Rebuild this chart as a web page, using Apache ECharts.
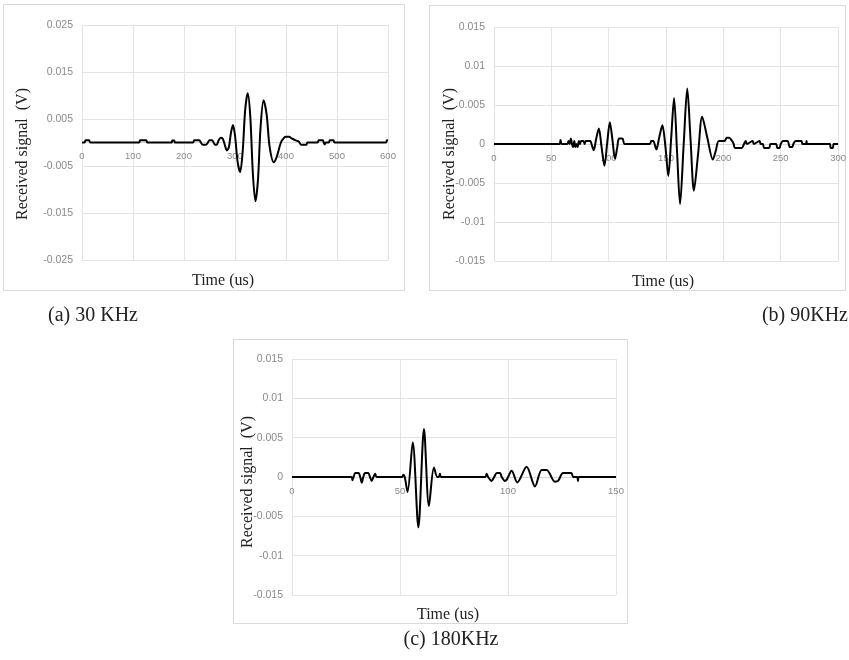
<!DOCTYPE html>
<html>
<head>
<meta charset="utf-8">
<script src="https://cdn.jsdelivr.net/npm/echarts@6/dist/echarts.min.js"></script>
<style>
html,body{margin:0;padding:0;background:#fff;}
#chart{width:849px;height:660px;}
</style>
</head>
<body>
<div id="chart"></div>
<script>
// ---------- Panel (a) 30 KHz ----------
const tA = [0,5,7,14,16,112,114,126,128,176,177,181,182,218,220,230,233,237,243,247,250,255,258,261,264,268,272,276,280,284,288,292,296,300,305,310,315,320,325,330,335,340,345,350,356,362,368,376,382,390,396,400,406,412,418,425,430,440,442,462,464,472,474,476,478,484,486,493,495,596,598,600];
const vA = [0,0,0.0005,0.0005,0,0,0.0005,0.0005,0,0,0.0004,0.0004,0,0,0.0005,0.0005,0,-0.0005,-0.0005,0,0.0005,0.0005,0,-0.0005,-0.0005,0.0005,0.001,0.0008,-0.0005,-0.0017,-0.001,0.002,0.0037,0.0015,-0.004,-0.0063,-0.002,0.007,0.0105,0.0055,-0.0065,-0.0125,-0.008,0.003,0.009,0.006,-0.001,-0.0042,-0.003,0,0.001,0.0012,0.0012,0.0008,0.0005,0.0002,-0.0005,-0.0005,0,0,0.0005,0.0005,0,-0.0004,0,0,0.0005,0.0005,0,0,0.0005,0.0005];

// ---------- Panel (b) 90 KHz ----------
const tB = [0,57,58,59,64,65,66,67,68,69,70,71,72,73,74,75,76,78,79,80,82,84,85,87,89,91.4,93.8,96.3,98.6,101,103.3,105.5,107.5,109,112,114,136,137,139,140,141.6,144,146.8,149.5,152,154.5,157,159.6,162.2,165.4,168.5,171.4,174.3,178,181.5,186,190.8,193.5,196,201,203,205,207.5,209,210,216,218,219.5,220.5,225.5,226.5,231.5,232.5,234.5,235.5,240,241,246,247,249,250,252,256,257,258,260,261,263,268,269,272,272.5,273,293,293.5,295.5,296,300];
const vB = [0,0,0.0005,0,0,0.0004,0,0.0007,0,-0.0004,0.0004,-0.0004,0,-0.0004,0.0004,0,0.0004,0.0004,0,0.0004,0.0004,0.0004,0,-0.0008,0.0006,0.002,-0.0004,-0.0028,0,0.0028,0.0005,-0.0019,-0.0004,0.0007,0.0007,0,0,0.0004,0.0004,0,-0.0007,0.0008,0.0024,-0.0004,-0.0041,0.0008,0.0059,-0.001,-0.0077,0,0.0071,0.0005,-0.006,-0.0012,0.0035,0.0008,-0.002,-0.0008,0.0004,0.0004,0.0008,0.0008,0.0004,0,-0.0005,-0.0005,0,0.0004,0,0.0004,0,0.0004,0,0,-0.0005,-0.0005,0,0,-0.0005,-0.0005,0,0.0004,0.0004,0,-0.0004,-0.0004,0,0.0004,0.0004,0,0,0.0004,0,0,-0.0005,-0.0005,0,0];

// ---------- Panel (c) 180 KHz ----------
const tC = [0,27.5,28,28.5,29.3,30.8,31.6,32.3,33,33.8,35.3,36.1,36.9,37.7,38.5,39.2,51,51.5,52.2,53.5,55.9,58.5,61.1,63.4,65.7,67.3,68,68.5,69,89.5,90.1,90.8,92.4,93.6,94.8,96.3,97.1,98.6,99.5,101.7,104.3,108.6,112.5,115.6,117.9,121.7,123.2,125.5,129.3,130.2,132,132.4,132.8,150];
const vC = [0,0,-0.0004,0,0.0005,0.0005,0,-0.0007,0,0.0005,0.0005,0,-0.0005,0,0.0004,0,0,0.0003,0,-0.0019,0.0044,-0.0064,0.0061,-0.0037,0.0012,0,0,0.0004,0,0,0.0004,0,-0.0005,0,0.0005,0.0005,0,-0.0005,-0.0003,0.0008,-0.0007,0.0013,-0.0012,0.0009,0.0009,-0.0006,-0.0005,0.0005,0.0005,0,0,-0.0005,0,0];

// ---------- Axis setup ----------
const xMaxA = 600, xStepA = 100;
const xMaxB = 300, xStepB = 50;
const xMaxC = 150, xStepC = 50;
const yLimA = 0.025, yStepA = 0.01;
const yLimB = 0.015, yStepB = 0.005;
const yLimC = 0.015, yStepC = 0.005;

const captions = ['(a) 30 KHz', '(b) 90KHz', '(c) 180KHz'];
const yTitle = 'Received signal  (V)';
const xTitle = 'Time (us)';

const pairs = (t, v) => t.map((x, i) => [x, v[i]]);

const serif = '"Liberation Serif", "Times New Roman", serif';
const gridColor = '#e3e3e3';
const labelColor = '#8a8a8a';

const grids = [
  { left: 82, top: 25, width: 306, height: 235 },
  { left: 494, top: 27, width: 346, height: 234 },
  { left: 292, top: 359, width: 324, height: 236 }
];

function xAxisOf(idx, max, step) {
  return {
    gridIndex: idx, type: 'value', min: 0, max: max, interval: step,
    position: 'bottom',
    offset: -grids[idx].height / 2,
    axisLine: { show: true, onZero: false, lineStyle: { color: '#d9d9d9', width: 1 } },
    axisTick: { show: false },
    axisLabel: { color: labelColor, fontSize: 9.5, fontFamily: 'Liberation Sans', margin: 9 },
    splitLine: { show: true, lineStyle: { color: gridColor, width: 1 } }
  };
}
function yAxisOf(idx, lim, step) {
  return {
    gridIndex: idx, type: 'value', min: -lim, max: lim, interval: step,
    axisLine: { show: false }, axisTick: { show: false },
    axisLabel: { color: labelColor, fontSize: 10.5, fontFamily: 'Liberation Sans', margin: 9 },
    splitLine: { show: true, lineStyle: { color: gridColor, width: 1 } }
  };
}
function seriesOf(idx, t, v) {
  return {
    type: 'line', xAxisIndex: idx, yAxisIndex: idx,
    data: pairs(t, v), showSymbol: false, smooth: 0.3,
    lineStyle: { color: '#000', width: 2 }, animation: false
  };
}
function border(x, y, w, h) {
  return { type: 'rect', shape: { x: x, y: y, width: w, height: h },
    style: { fill: 'none', stroke: '#d9d9d9', lineWidth: 1 }, z: -1 };
}
function txt(x, y, s, size, rot, align) {
  return { type: 'text', x: x, y: y, rotation: rot || 0,
    style: { text: s, fontSize: size, fontFamily: serif, fill: '#222',
      align: align || 'center', verticalAlign: 'middle' } };
}

const chart = echarts.init(document.getElementById('chart'), null, { renderer: 'canvas' });
chart.setOption({
  backgroundColor: '#fff',
  animation: false,
  grid: grids,
  xAxis: [xAxisOf(0, xMaxA, xStepA), xAxisOf(1, xMaxB, xStepB), xAxisOf(2, xMaxC, xStepC)],
  yAxis: [yAxisOf(0, yLimA, yStepA), yAxisOf(1, yLimB, yStepB), yAxisOf(2, yLimC, yStepC)],
  series: [seriesOf(0, tA, vA), seriesOf(1, tB, vB), seriesOf(2, tC, vC)],
  graphic: [
    border(3.5, 4.5, 401, 286),
    border(429.5, 5.5, 416, 285),
    border(233.5, 339.5, 394, 284),
    txt(23, 154, yTitle, 16, Math.PI / 2),
    txt(450, 154, yTitle, 16, Math.PI / 2),
    txt(248, 482, yTitle, 16, Math.PI / 2),
    txt(223, 281, xTitle, 16),
    txt(663, 282, xTitle, 16),
    txt(448, 615, xTitle, 16),
    txt(48, 316, captions[0], 20, 0, 'left'),
    txt(848, 316, captions[1], 20, 0, 'right'),
    txt(451, 640, captions[2], 20)
  ]
});
</script>
</body>
</html>
